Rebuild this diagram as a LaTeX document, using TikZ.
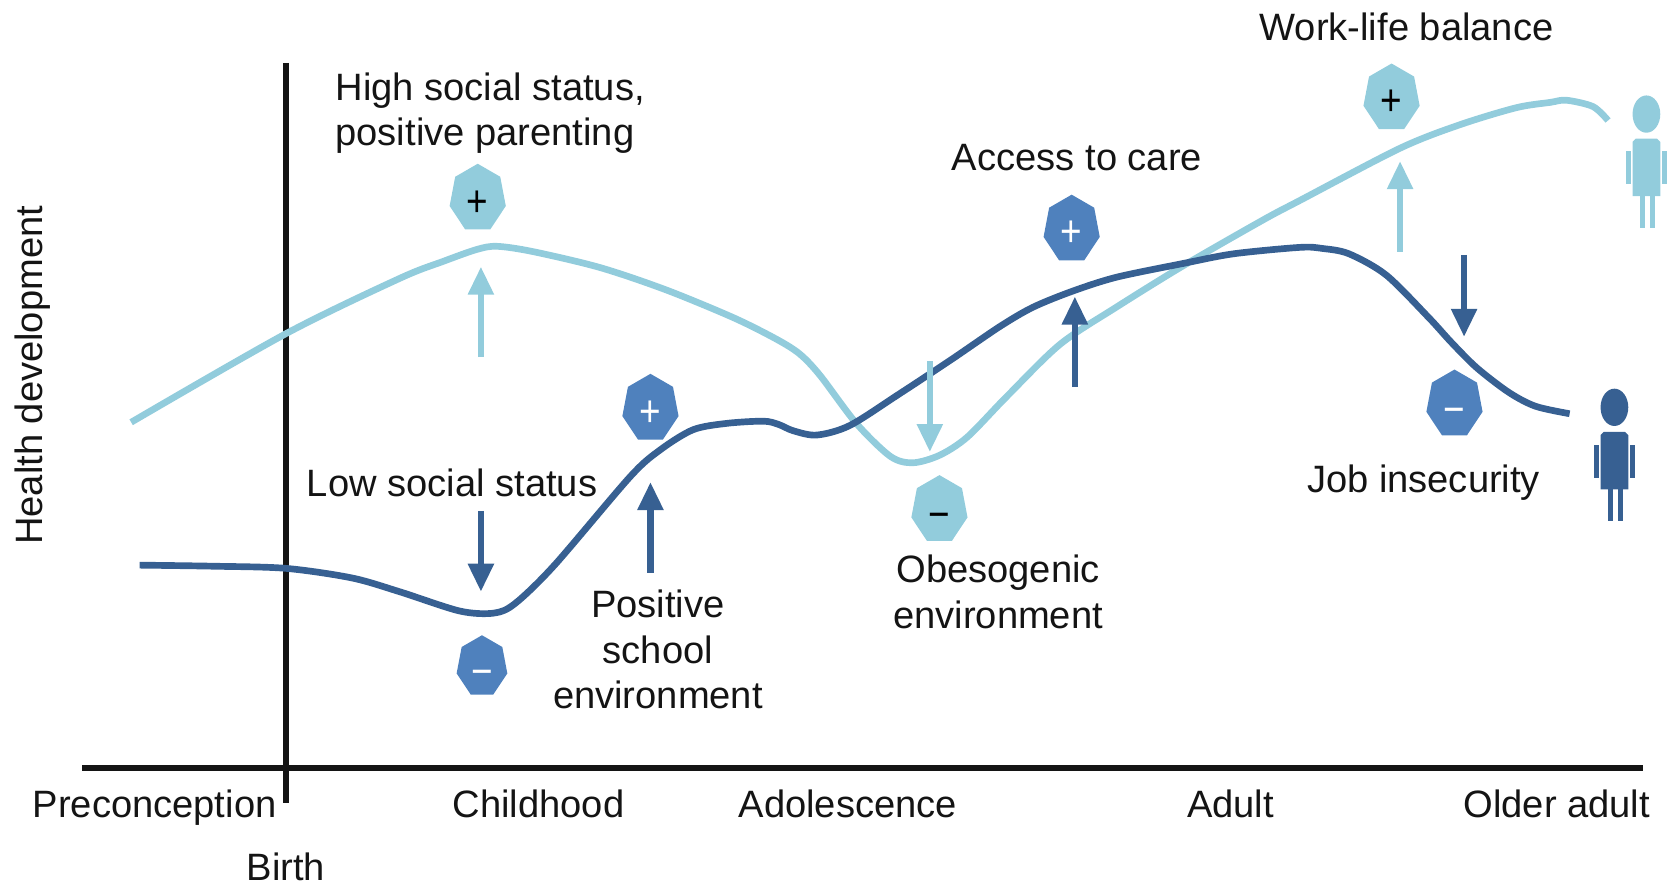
\documentclass[tikz,border=0pt]{standalone}
\usepackage{fontspec}
\setmainfont{Liberation Sans}
\usetikzlibrary{shapes.geometric,arrows.meta}
\definecolor{lightc}{HTML}{92CCDC}
\definecolor{darkc}{HTML}{376092}
\definecolor{midc}{HTML}{4F81BD}
\definecolor{ink}{HTML}{141414}
\newcommand{\hplus}{\raisebox{-4.2pt}[1pt][1pt]{+}}
\newcommand{\hminus}{\raisebox{-4.8pt}[1pt][1pt]{\textminus}}
\tikzset{
 lab/.style={text=ink,font=\fontsize{10.85}{13}\selectfont,inner sep=0pt,align=center},
 axisline/.style={draw=ink,line width=1.8pt},
 curve/.style={line width=1.9pt,line join=round},
 arrowline/.style={line width=1.9pt,-{Triangle[length=8pt,width=7pt]}},
 hepta/.style={regular polygon,regular polygon sides=7,minimum size=16.4pt,inner sep=0pt,transform shape,yscale=1.2,font=\fontsize{10.5}{10.5}\selectfont},
 lighthepta/.style={hepta,fill=lightc,text=black},
 darkhepta/.style={hepta,fill=midc,text=white},
}
\newcommand{\personfig}[3]{%
 \begin{scope}[shift={(#1,#2)},fill=#3]
  \fill (1544,107) ellipse [x radius=13,y radius=17.5];
  \fill (1534,130) -- (1554,130) -- (1557,133) -- (1557,184) -- (1531,184) -- (1531,133) -- cycle;
  \fill (1525,142) rectangle (1529.5,173);
  \fill (1559,142) rectangle (1563.5,173);
  \fill (1538,184) rectangle (1543,214);
  \fill (1547,184) rectangle (1552,214);
 \end{scope}}
\begin{document}
\begin{tikzpicture}[x=0.010663cm,y=-0.010663cm]
\useasboundingbox (0,0) rectangle (1568,829);
% axes
\coordinate (xa) at (77,720); \coordinate (xb) at (1541,720);
\coordinate (ya) at (268,59); \coordinate (yb) at (268,753);
\draw[axisline] (xa) -- (xb);
\draw[axisline] (ya) -- (yb);
% curves
\draw[curve,lightc] plot[smooth,tension=0.5] coordinates {(123,396)(268,313)(375,261)(416,245)(447,234)(466,231)(500,236)(563,251)(625,272)(688,298)(728,318)(750,332)(769,352)(803,397)(835,428)(856,434)(881,427)(907,410)(944,372)(994,323)(1047,288)(1110,249)(1185,206)(1219,188)(1313,139)(1369,117)(1422,101)(1454,96)(1469,94)(1494,100)(1508,113)};
\draw[curve,darkc] plot[smooth,tension=0.5] coordinates {(131,530)(200,531)(268,533)(330,542)(375,555)(431,573)(463,575)(483,566)(520,530)(591,447)(619,422)(650,403)(682,397)(716,395)(730,398)(744,404)(766,408)(797,399)(844,369)(891,338)(938,306)(969,288)(1006,273)(1047,260)(1110,247)(1157,238)(1219,232)(1240,233)(1265,238)(1300,258)(1340,298)(1361,321)(1385,345)(1415,368)(1440,381)(1472,388)};
% arrows
\coordinate (a1s) at (451,335); \coordinate (a1e) at (451,250);
\coordinate (a2s) at (451,479); \coordinate (a2e) at (451,555);
\coordinate (a3s) at (610,537); \coordinate (a3e) at (610,452);
\coordinate (a4s) at (872,339); \coordinate (a4e) at (872,424);
\coordinate (a5s) at (1008,363); \coordinate (a5e) at (1008,278);
\coordinate (a6s) at (1313,236); \coordinate (a6e) at (1313,151);
\coordinate (a7s) at (1373,239); \coordinate (a7e) at (1373,316);
\draw[arrowline,lightc] (a1s) -- (a1e);
\draw[arrowline,darkc] (a2s) -- (a2e);
\draw[arrowline,darkc] (a3s) -- (a3e);
\draw[arrowline,lightc] (a4s) -- (a4e);
\draw[arrowline,darkc] (a5s) -- (a5e);
\draw[arrowline,lightc] (a6s) -- (a6e);
\draw[arrowline,darkc] (a7s) -- (a7e);
% heptagons
\node[lighthepta] (h1) at (448,186) {\hplus};
\node[darkhepta] (h2) at (610,383) {\hplus};
\node[darkhepta] (h3) at (1005,215) {\hplus};
\node[lighthepta] (h4) at (1305,92) {\hplus};
\node[darkhepta,minimum size=14.8pt] (h5) at (452,625) {\hminus};
\node[lighthepta] (h6) at (881,478) {\hminus};
\node[darkhepta] (h7) at (1364,379) {\hminus};
% people
\personfig{0}{0}{lightc}
\personfig{-30}{275}{darkc}
% labels
\node[lab,align=left,anchor=west] (t1) at (314,106) {High social status,\\positive parenting};
\node[lab] (t2) at (424,453) {Low social status};
\node[lab] (t3) at (617,609) {Positive\\school\\environment};
\node[lab] (t4) at (936,555) {Obesogenic\\environment};
\node[lab] (t5) at (1010,148) {Access to care};
\node[lab] (t6) at (1319,25) {Work-life balance};
\node[lab] (t7) at (1335,453) {Job insecurity};
\node[lab,rotate=90] (t8) at (31,352) {Health development};
\node[lab,anchor=base] (t9) at (145,767) {Preconception};
\node[lab,anchor=base] (t10) at (505,767) {Childhood};
\node[lab,anchor=base] (t11) at (795,767) {Adolescence};
\node[lab,anchor=base] (t12) at (1154,767) {Adult};
\node[lab,anchor=base] (t13) at (1460,767) {Older adult};
\node[lab,anchor=base] (t14) at (268,826) {Birth};
\end{tikzpicture}
\end{document}
